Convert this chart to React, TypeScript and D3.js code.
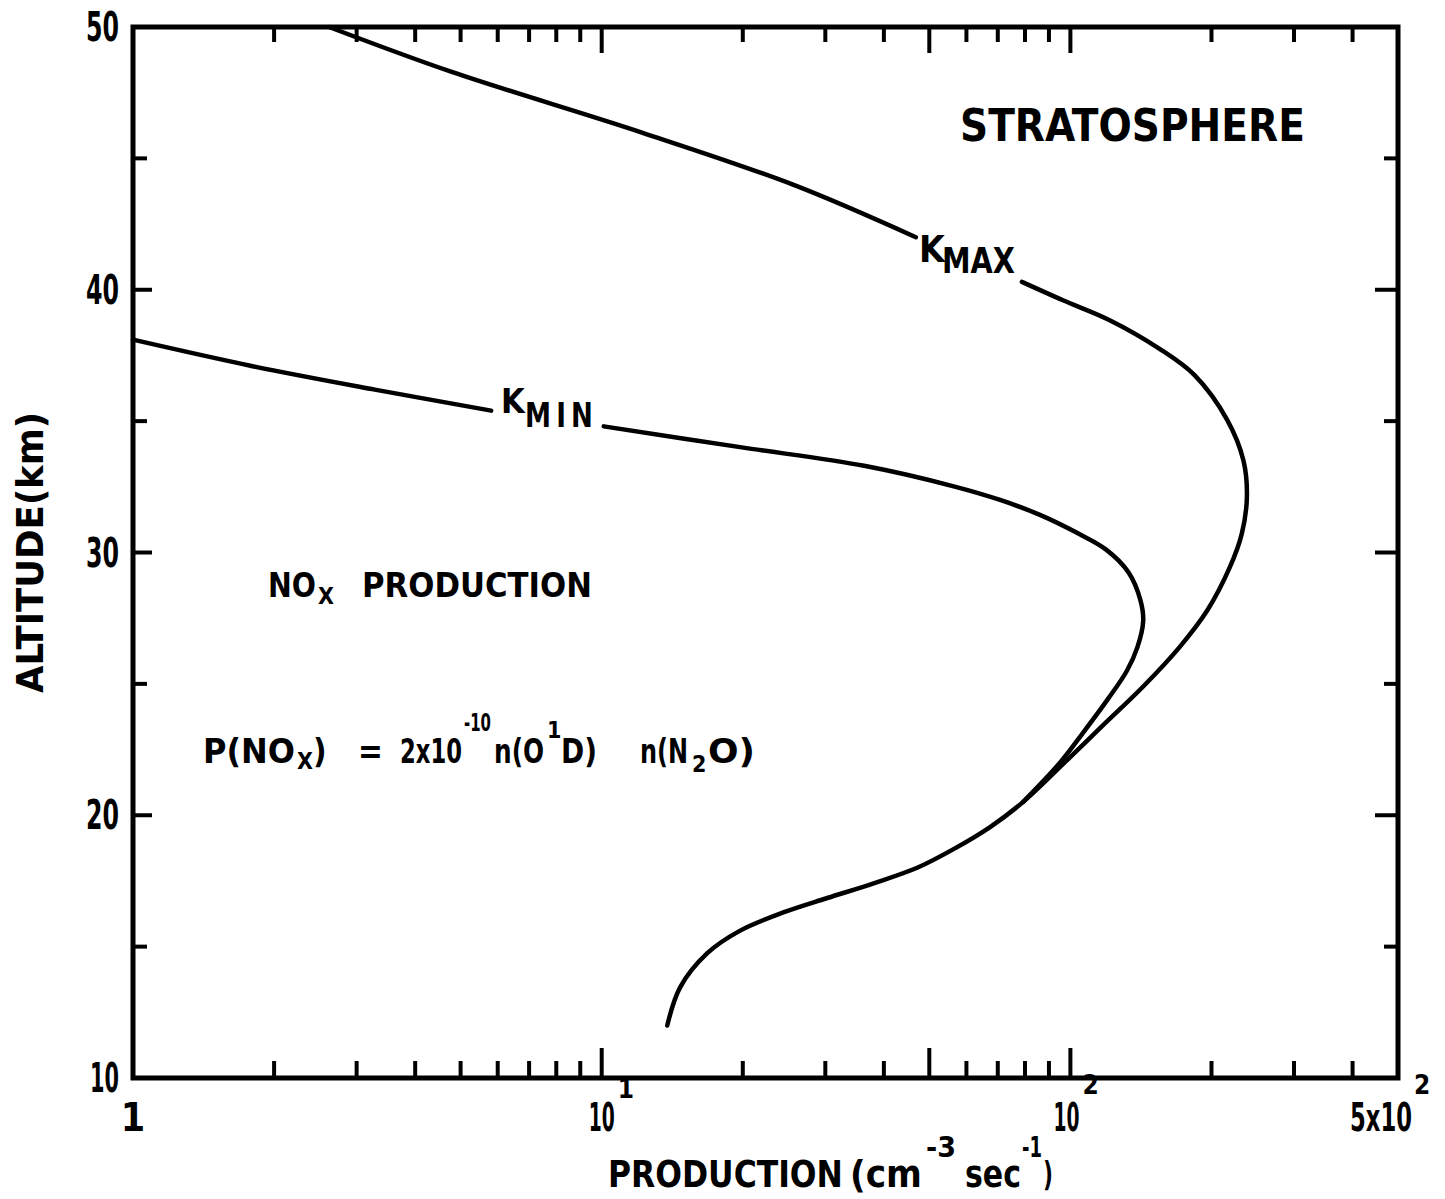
import { useLayoutEffect, useRef, useState } from 'react'
import * as d3 from 'd3'

// values: production (cm^-3 sec^-1) vs altitude (km)
const kmaxUpperProd = [2.62, 4.77, 12.1, 25.6, 46.8]
const kmaxUpperAlt = [50.0, 48.3, 46.0, 44.0, 42.0]
const kmaxLowerProd = [78.8, 96.4, 121, 155, 184, 216, 234, 238, 232, 219, 196, 171, 143, 117, 98.4, 79.2, 67.4, 56.2, 47.1, 37.9, 30.3, 24.4, 19.7, 16.8, 14.7, 13.8]
const kmaxLowerAlt = [40.3, 39.6, 38.85, 37.75, 36.75, 35.05, 33.5, 32.1, 30.7, 29.45, 27.8, 26.4, 24.9, 23.4, 22.1, 20.5, 19.55, 18.7, 18.0, 17.4, 16.85, 16.3, 15.6, 14.75, 13.45, 12.0]
const kminUpperProd = [1, 1.79, 3.28, 5.81]
const kminUpperAlt = [38.1, 37.1, 36.2, 35.4]
const kminLowerProd = [10.1, 19.9, 36.3, 56.9, 70.8, 86.1, 104, 119, 133, 141, 143, 139, 132, 120, 106, 95, 79.2]
const kminLowerAlt = [34.8, 34.0, 33.3, 32.5, 32.0, 31.43, 30.72, 30.12, 29.25, 28.2, 27.4, 26.4, 25.5, 24.4, 23.1, 22.0, 20.5]

const altLabels = [10, 20, 30, 40, 50]
const altTicksLong = [20, 30, 40]
const altTicksShort = [15, 25, 35, 45]
const prodTicksLong = [10, 50, 100]
const prodTicksShort = [2, 3, 4, 5, 6, 7, 8, 9, 20, 30, 40, 60, 70, 80, 90, 200, 300, 400]

const FONT = "'Liberation Sans Narrow','DejaVu Sans Condensed','Arial Narrow',sans-serif"

const zip = (p: number[], a: number[]) => p.map((v, i) => ({ p: v, a: a[i] }))

// text squeezed horizontally to a given width (the original lettering is very narrow)
function T({ x, y, size, w, anchor = 'start', spacing = 0, children }: {
  x: number; y: number; size: number; w?: number; anchor?: 'start' | 'middle' | 'end'; spacing?: number; children: string
}) {
  const ref = useRef<SVGTextElement | null>(null)
  const [sx, setSx] = useState(1)
  useLayoutEffect(() => {
    if (!w || !ref.current) return
    const n = ref.current.getComputedTextLength()
    if (n > 0) setSx(w / n)
  }, [w, size, children])
  const width = w ?? 0
  const ox = !w ? x : anchor === 'end' ? x - width : anchor === 'middle' ? x - width / 2 : x
  return (
    <text
      ref={ref}
      transform={`translate(${ox},${y}) scale(${w ? sx : 1},1)`}
      fontSize={size}
      fontFamily={FONT}
      fontWeight={700}
      letterSpacing={spacing}
      textAnchor={w ? 'start' : anchor}
      fill="#000"
    >
      {children}
    </text>
  )
}

export default function App() {
  const W = 1445
  const H = 1199
  const x = d3.scaleLog().domain([1, 500]).range([133, 1398])
  const y = d3.scaleLinear().domain([10, 50]).range([1078, 27])
  const [x0, x1] = x.range()
  const [yb, yt] = y.range()

  const line = d3
    .line<{ p: number; a: number }>()
    .x((d) => x(d.p))
    .y((d) => y(d.a))
    .curve(d3.curveCatmullRom.alpha(0.5))

  const curves = [
    zip(kmaxUpperProd, kmaxUpperAlt),
    zip(kmaxLowerProd, kmaxLowerAlt),
    zip(kminUpperProd, kminUpperAlt),
    zip(kminLowerProd, kminLowerAlt),
  ]

  return (
    <svg width={W} height={H} style={{ position: 'absolute', left: 0, top: 0, background: '#fff' }}>
      {/* frame */}
      <rect x={x0} y={yt} width={x1 - x0} height={yb - yt} fill="none" stroke="#000" strokeWidth={5} />

      {/* bottom / top ticks */}
      {prodTicksShort.map((t) => (
        <g key={'ps' + t} stroke="#000" strokeWidth={4}>
          <line x1={x(t)} x2={x(t)} y1={yb} y2={yb - 17} />
          <line x1={x(t)} x2={x(t)} y1={yt} y2={yt + 15} />
        </g>
      ))}
      {prodTicksLong.map((t) => (
        <g key={'pl' + t} stroke="#000" strokeWidth={4}>
          <line x1={x(t)} x2={x(t)} y1={yb} y2={yb - 30} />
          <line x1={x(t)} x2={x(t)} y1={yt} y2={yt + 26} />
        </g>
      ))}

      {/* left / right ticks */}
      {altTicksLong.map((t) => (
        <g key={'al' + t} stroke="#000" strokeWidth={4}>
          <line x1={x0} x2={x0 + 19} y1={y(t)} y2={y(t)} />
          <line x1={x1} x2={x1 - 23} y1={y(t)} y2={y(t)} />
        </g>
      ))}
      {altTicksShort.map((t) => (
        <g key={'as' + t} stroke="#000" strokeWidth={4}>
          <line x1={x0} x2={x0 + 14} y1={y(t)} y2={y(t)} />
          <line x1={x1} x2={x1 - 14} y1={y(t)} y2={y(t)} />
        </g>
      ))}

      {/* curves */}
      {curves.map((c, i) => (
        <path key={i} d={line(c) || ''} fill="none" stroke="#000" strokeWidth={4.5} strokeLinecap="round" />
      ))}

      {/* altitude labels */}
      {altLabels.map((t) => (
        <T key={'lab' + t} x={119} y={y(t) + 14} size={40} w={t === 10 ? 29 : 33} anchor="end">
          {String(t)}
        </T>
      ))}

      {/* production labels */}
      <T x={x(1)} y={1131} size={39} anchor="middle">1</T>
      <T x={x(10) - 13} y={1131} size={39} w={26}>10</T>
      <T x={x(10) + 16} y={1098} size={26}>1</T>
      <T x={x(100) - 17} y={1131} size={39} w={26}>10</T>
      <T x={x(100) + 12} y={1094} size={26}>2</T>
      <T x={1350} y={1131} size={39} w={62}>5x10</T>
      <T x={1414} y={1094} size={26}>2</T>

      {/* x axis title */}
      <T x={608} y={1187} size={38} w={235}>PRODUCTION</T>
      <T x={850} y={1187} size={38} w={72}>(cm</T>
      <T x={926} y={1157} size={28} w={30}>-3</T>
      <T x={965} y={1187} size={38} w={56}>sec</T>
      <T x={1022} y={1157} size={28} w={20}>-1</T>
      <T x={1043} y={1186} size={34} w={10}>)</T>

      {/* y axis title */}
      <text
        transform="translate(43,693) rotate(-90)"
        fontSize={38}
        fontFamily={FONT}
        fontWeight={700}
        textLength={281}
        lengthAdjust="spacingAndGlyphs"
      >
        ALTITUDE(km)
      </text>

      {/* annotations */}
      <T x={960} y={141} size={44} w={345}>STRATOSPHERE</T>

      <T x={268} y={597} size={34} w={48}>NO</T>
      <T x={318} y={604} size={23}>X</T>
      <T x={362} y={597} size={34} w={230}>PRODUCTION</T>

      <T x={203} y={763} size={33} w={92}>P(NO</T>
      <T x={297} y={769} size={23}>X</T>
      <T x={313} y={763} size={33}>)</T>
      <T x={358} y={763} size={33}>=</T>
      <T x={400} y={763} size={33} w={62}>2x10</T>
      <T x={464} y={731} size={24} w={27}>-10</T>
      <T x={494} y={763} size={33} w={50}>n(O</T>
      <T x={547} y={738} size={23}>1</T>
      <T x={561} y={763} size={33} w={36}>D)</T>
      <T x={640} y={763} size={33} w={48}>n(N</T>
      <T x={692} y={772} size={23}>2</T>
      <T x={708} y={763} size={33} w={47}>O)</T>

      {/* curve labels */}
      <T x={919} y={262} size={37}>K</T>
      <T x={942} y={273} size={36} w={73}>MAX</T>
      <T x={501} y={413} size={34}>K</T>
      <T x={525} y={427} size={34} w={73} spacing={6}>MIN</T>
    </svg>
  )
}
